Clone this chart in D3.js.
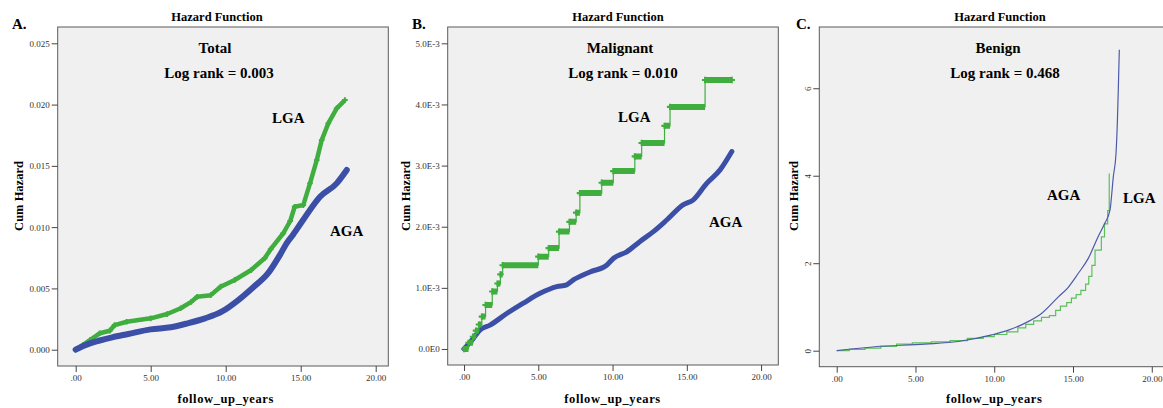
<!DOCTYPE html>
<html>
<head>
<meta charset="utf-8">
<script src="https://cdn.jsdelivr.net/npm/d3@7"></script>
<style>
  body { margin: 0; background: #fff; }
  svg { display: block; }
  .tick text { font-family: "Liberation Serif", serif; font-size: 9px; fill: #333; }
  .tick line { stroke: #444; }
</style>
</head>
<body>
<script>
// shared x axis
var xTicks = [0, 5, 10, 15, 20];
var xTickLabels = [".00", "5.00", "10.00", "15.00", "20.00"];

// A. Total
var totalYTicks = [0, 0.005, 0.010, 0.015, 0.020, 0.025];
var totalYLabels = ["0.000", "0.005", "0.010", "0.015", "0.020", "0.025"];
var totalAgaYears = [0, 0.5, 0.95, 1.6, 2.44, 3.5, 5.0, 6.34, 7.45, 8.62, 9.73, 10.84, 11.84, 12.8, 13.6, 14.07, 14.5, 15.17, 16.29, 17.4, 18.07];
var totalAgaHaz = [0, 0.0003, 0.00052, 0.00075, 0.00101, 0.00128, 0.00166, 0.00183, 0.00215, 0.00256, 0.0031, 0.00405, 0.0051, 0.0062, 0.0077, 0.0087, 0.0094, 0.0106, 0.01248, 0.01357, 0.01466];
var totalLgaYears = [0, 0.5, 0.95, 1.6, 2.27, 2.6, 3.4, 5.0, 6.1, 7.0, 7.7, 8.1, 9.0, 9.66, 10.6, 11.7, 12.6, 13.0, 13.84, 14.3, 14.6, 15.17, 15.62, 16.07, 16.4, 16.84, 17.4, 17.95];
var totalLgaHaz = [0, 0.0004, 0.00079, 0.00134, 0.00155, 0.00201, 0.00228, 0.00256, 0.00291, 0.00338, 0.0039, 0.00432, 0.00445, 0.00514, 0.00569, 0.0065, 0.00746, 0.0082, 0.0095, 0.0105, 0.01166, 0.0118, 0.01357, 0.01547, 0.0171, 0.01847, 0.01969, 0.02037];

// B. Malignant
var maligYTicks = [0, 0.001, 0.002, 0.003, 0.004, 0.005];
var maligYLabels = ["0.0E0", "1.0E-3", "2.0E-3", "3.0E-3", "4.0E-3", "5.0E-3"];
var maligAgaYears = [0, 0.63, 1.08, 1.75, 2.87, 3.99, 5.12, 6.24, 6.91, 7.36, 8.48, 9.6, 10.05, 10.95, 11.85, 12.75, 13.65, 14.77, 15.44, 16.34, 17.24, 18.03];
var maligAgaHaz = [0, 0.000175, 0.00031, 0.00039, 0.00058, 0.00075, 0.00091, 0.00102, 0.00105, 0.00113, 0.00126, 0.00137, 0.00148, 0.00159, 0.00176, 0.00192, 0.00211, 0.00236, 0.00244, 0.00271, 0.00293, 0.00323];
var maligLgaYears = [0, 0.3, 0.6, 0.8, 1.0, 1.2, 1.45, 1.9, 2.25, 2.45, 2.6, 5.0, 5.7, 6.4, 7.1, 7.55, 7.8, 9.27, 10.05, 11.5, 11.96, 13.5, 13.87, 16.23, 18.03];
var maligLgaHaz = [0, 0.0001, 0.0002, 0.0003, 0.0004, 0.00053, 0.00072, 0.00094, 0.00107, 0.00122, 0.00137, 0.00151, 0.00165, 0.00192, 0.00208, 0.00223, 0.00255, 0.00272, 0.00291, 0.00315, 0.00337, 0.00365, 0.00396, 0.0044, 0.0044];

// C. Benign
var benignYTicks = [0, 2, 4, 6];
var benignYLabels = ["0", "2", "4", "6"];
var benignAgaYears = [0, 2.43, 5.6, 7.72, 9.84, 10.9, 11.96, 13.0, 14.07, 14.7, 15.34, 15.97, 16.6, 17.0, 17.35, 17.56, 17.73, 17.82, 17.88, 17.94];
var benignAgaHaz = [0, 0.09, 0.15, 0.21, 0.36, 0.47, 0.63, 0.85, 1.23, 1.45, 1.77, 2.11, 2.61, 2.9, 3.22, 3.98, 4.51, 5.27, 6.03, 6.88];
var benignLgaYears = [0, 0.8, 1.8, 2.8, 3.8, 4.8, 6.0, 7.2, 8.3, 9.3, 10.0, 10.8, 11.5, 12.0, 12.5, 13.0, 13.5, 13.9, 14.2, 14.6, 14.9, 15.2, 15.5, 15.8, 16.0, 16.2, 16.4, 16.8, 17.0, 17.2, 17.3];
var benignLgaHaz = [0, 0.03, 0.06, 0.1, 0.15, 0.18, 0.2, 0.23, 0.28, 0.32, 0.37, 0.43, 0.52, 0.6, 0.68, 0.76, 0.8, 0.92, 1.02, 1.1, 1.2, 1.28, 1.38, 1.52, 1.7, 1.95, 2.3, 2.6, 2.9, 3.2, 4.05];

var green = "#3fae3f";
var blue = "#3b4fa6";
var serif = "'Liberation Serif', 'Times New Roman', serif";

function zip(xs, ys) {
    return xs.map(function(d, i) { return [d, ys[i]]; });
}

var panels = [
    {
        letter: "A.", name: "Total", logrank: "Log rank = 0.003",
        box: {left: 57.7, right: 388.3, top: 27, bottom: 366},
        xDomain: [-1.2, 20.84], yDomain: [-0.00133, 0.02633],
        yTicks: totalYTicks, yLabels: totalYLabels,
        aga: zip(totalAgaYears, totalAgaHaz), lga: zip(totalLgaYears, totalLgaHaz),
        style: "thick",
        letterX: 12, titleX: 217, nameX: 215, lrX: 219, yTitleX: 22.5,
        lgaPos: [272, 123], agaPos: [330, 236]
    },
    {
        letter: "B.", name: "Malignant", logrank: "Log rank = 0.010",
        box: {left: 447.7, right: 778.3, top: 27, bottom: 365},
        xDomain: [-1.1, 21.16], yDomain: [-0.000262, 0.005267],
        yTicks: maligYTicks, yLabels: maligYLabels,
        aga: zip(maligAgaYears, maligAgaHaz), lga: zip(maligLgaYears, maligLgaHaz),
        style: "steps",
        letterX: 412, titleX: 618, nameX: 620, lrX: 623, yTitleX: 410,
        lgaPos: [618, 122], agaPos: [709, 227]
    },
    {
        letter: "C.", name: "Benign", logrank: "Log rank = 0.468",
        box: {left: 819.3, right: 1165, top: 27, bottom: 366.7},
        xDomain: [-1.105, 20.84], yDomain: [-0.366, 7.4],
        yTicks: benignYTicks, yLabels: benignYLabels,
        aga: zip(benignAgaYears, benignAgaHaz), lga: zip(benignLgaYears, benignLgaHaz),
        style: "thin",
        letterX: 796, titleX: 1000, nameX: 998, lrX: 1005, yTitleX: 797.5,
        lgaPos: [1123, 203], agaPos: [1047, 200]
    }
];

var svg = d3.select("body").append("svg")
    .attr("width", 1163)
    .attr("height", 408);

panels.forEach(drawPanel);

function drawPanel(p) {
    var b = p.box;
    var x = d3.scaleLinear().domain(p.xDomain).range([b.left, b.right]);
    var y = d3.scaleLinear().domain(p.yDomain).range([b.bottom, b.top]);
    var g = svg.append("g");

    // plot area
    g.append("rect")
        .attr("x", b.left).attr("y", b.top)
        .attr("width", b.right - b.left).attr("height", b.bottom - b.top)
        .attr("fill", "#f0f0f0")
        .attr("stroke", "#5a5a5a")
        .attr("stroke-width", 1);

    // axes
    var yAxis = g.append("g")
        .attr("transform", "translate(" + b.left + ",0)")
        .call(d3.axisLeft(y).tickValues(p.yTicks)
            .tickFormat(function(d, i) { return p.yLabels[i]; })
            .tickSize(6).tickPadding(2).tickSizeOuter(0));
    yAxis.select(".domain").remove();

    if (p.style == "thin") {
        // SPSS draws these labels turned on their side
        yAxis.selectAll(".tick text")
            .attr("x", 0).attr("y", -8).attr("dy", 0)
            .attr("text-anchor", "middle")
            .attr("transform", "rotate(-90)");
    }

    var xAxis = g.append("g")
        .attr("transform", "translate(0," + b.bottom + ")")
        .call(d3.axisBottom(x).tickValues(xTicks)
            .tickFormat(function(d, i) { return xTickLabels[i]; })
            .tickSize(6).tickPadding(3).tickSizeOuter(0));
    xAxis.select(".domain").remove();

    // curves
    var clip = "clip" + p.letter.charAt(0);
    g.append("clipPath").attr("id", clip).append("rect")
        .attr("x", b.left).attr("y", b.top)
        .attr("width", b.right - b.left).attr("height", b.bottom - b.top);
    var plot = g.append("g").attr("clip-path", "url(#" + clip + ")");

    var lin = d3.line().x(function(d) { return x(d[0]); }).y(function(d) { return y(d[1]); });
    var smooth = d3.line().curve(d3.curveMonotoneX)
        .x(function(d) { return x(d[0]); }).y(function(d) { return y(d[1]); });
    var step = d3.line().curve(d3.curveStepAfter)
        .x(function(d) { return x(d[0]); }).y(function(d) { return y(d[1]); });
    var plus = d3.symbol().type(d3.symbolCross).size(18);

    if (p.style == "thick") {
        plot.append("path").datum(p.lga)
            .attr("d", lin).attr("fill", "none")
            .attr("stroke", green).attr("stroke-width", 4.5)
            .attr("stroke-linejoin", "round");
        plot.selectAll(".plusL").data(p.lga).enter().append("path")
            .attr("d", plus)
            .attr("transform", function(d) { return "translate(" + x(d[0]) + "," + y(d[1]) + ")"; })
            .attr("fill", green);
        plot.append("path").datum(p.aga)
            .attr("d", smooth).attr("fill", "none")
            .attr("stroke", blue).attr("stroke-width", 6)
            .attr("stroke-linejoin", "round").attr("stroke-linecap", "round");
    } else if (p.style == "steps") {
        plot.append("path").datum(p.aga)
            .attr("d", smooth).attr("fill", "none")
            .attr("stroke", blue).attr("stroke-width", 5)
            .attr("stroke-linejoin", "round").attr("stroke-linecap", "round");
        plot.append("path").datum(p.lga)
            .attr("d", step).attr("fill", "none")
            .attr("stroke", green).attr("stroke-width", 1.2);
        // censored marks pile up into thick bars along each plateau
        var flats = p.lga.slice(0, -1).map(function(d, i) { return [d, p.lga[i + 1]]; });
        plot.selectAll(".flat").data(flats).enter().append("line")
            .attr("x1", function(d) { return x(d[0][0]); })
            .attr("x2", function(d) { return x(d[1][0]); })
            .attr("y1", function(d) { return y(d[0][1]); })
            .attr("y2", function(d) { return y(d[0][1]); })
            .attr("stroke", green).attr("stroke-width", 6);
        plot.selectAll(".plusL").data(p.lga).enter().append("path")
            .attr("d", d3.symbol().type(d3.symbolCross).size(22))
            .attr("transform", function(d) { return "translate(" + x(d[0]) + "," + y(d[1]) + ")"; })
            .attr("fill", green);
    } else {
        plot.append("path").datum(p.lga)
            .attr("d", step).attr("fill", "none")
            .attr("stroke", "#5cbf5c").attr("stroke-width", 1.2);
        plot.append("path").datum(p.aga)
            .attr("d", smooth).attr("fill", "none")
            .attr("stroke", "#4d5aa8").attr("stroke-width", 1.2);
    }

    // texts
    g.append("text").text(p.letter)
        .attr("x", p.letterX).attr("y", 29)
        .attr("font-family", serif).attr("font-weight", "bold").attr("font-size", "15px");
    g.append("text").text("Hazard Function")
        .attr("x", p.titleX).attr("y", 21)
        .attr("text-anchor", "middle")
        .attr("font-family", serif).attr("font-weight", "bold").attr("font-size", "12.5px");
    g.append("text").text(p.name)
        .attr("x", p.nameX).attr("y", 53)
        .attr("text-anchor", "middle")
        .attr("font-family", serif).attr("font-weight", "bold").attr("font-size", "15px");
    g.append("text").text(p.logrank)
        .attr("x", p.lrX).attr("y", 78)
        .attr("text-anchor", "middle")
        .attr("font-family", serif).attr("font-weight", "bold").attr("font-size", "15px");
    g.append("text").text("LGA")
        .attr("x", p.lgaPos[0]).attr("y", p.lgaPos[1])
        .attr("font-family", serif).attr("font-weight", "bold").attr("font-size", "15px");
    g.append("text").text("AGA")
        .attr("x", p.agaPos[0]).attr("y", p.agaPos[1])
        .attr("font-family", serif).attr("font-weight", "bold").attr("font-size", "15px");

    // axis titles
    g.append("text").text("follow_up_years")
        .attr("x", x(10)).attr("y", 403)
        .attr("text-anchor", "middle")
        .attr("letter-spacing", "0.6px")
        .attr("font-family", serif).attr("font-weight", "bold").attr("font-size", "12.5px");
    g.append("text").text("Cum Hazard")
        .attr("transform", "translate(" + p.yTitleX + ",196) rotate(-90)")
        .attr("text-anchor", "middle")
        .attr("font-family", serif).attr("font-weight", "bold").attr("font-size", "12.5px");
}
</script>
</body>
</html>
